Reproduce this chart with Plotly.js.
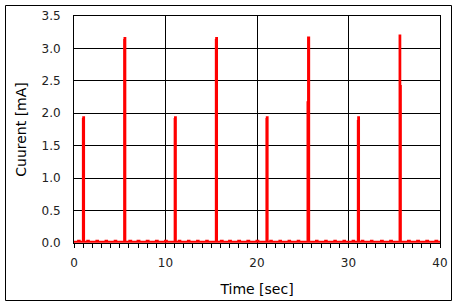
<!DOCTYPE html>
<html>
<head>
<meta charset="utf-8">
<script src="https://cdn.plot.ly/plotly-3.0.1.min.js"></script>
<style>
html,body{margin:0;padding:0;background:#fff;}
#chart{width:458px;height:307px;}
</style>
</head>
<body>
<div id="chart"></div>
<script>
// Time samples [sec]
const time = [
  0, 0.45, 0.62, 0.97, 1.01, 1.10, 1.45, 1.62, 2.45, 2.62, 3.45, 3.62, 4.45, 4.62,
  5.48, 5.52, 5.61, 6.05, 6.25, 6.95, 7.15, 7.95, 8.15, 8.95, 9.15, 9.95, 10.15,
  11.00, 11.04, 11.13, 11.45, 11.62, 12.45, 12.62, 13.45, 13.62, 14.45, 14.62,
  15.50, 15.54, 15.63, 16.05, 16.25, 16.95, 17.15, 17.95, 18.15, 18.95, 19.15, 19.95, 20.15,
  21.03, 21.07, 21.16, 21.45, 21.62, 22.45, 22.62, 23.45, 23.62, 24.45, 24.62,
  25.52, 25.58, 25.70, 26.45, 26.62, 27.45, 27.62, 28.45, 28.62, 29.45, 29.62, 30.45, 30.62,
  31.02, 31.06, 31.15, 31.45, 31.62, 32.45, 32.62, 33.55, 33.75, 34.55, 34.75,
  35.58, 35.66, 35.72, 36.50, 36.70, 37.50, 37.70, 38.50, 38.70, 39.50, 39.70, 40
];
// Current [mA]
const current = [
  0.02, 0.035, 0.02, 1.91, 1.94, 0.02, 0.035, 0.02, 0.035, 0.02, 0.035, 0.02, 0.035, 0.02,
  3.13, 3.16, 0.02, 0.035, 0.02, 0.035, 0.02, 0.035, 0.02, 0.035, 0.02, 0.035, 0.02,
  1.91, 1.94, 0.02, 0.035, 0.02, 0.035, 0.02, 0.035, 0.02, 0.035, 0.02,
  3.13, 3.16, 0.02, 0.035, 0.02, 0.035, 0.02, 0.035, 0.02, 0.035, 0.02, 0.035, 0.02,
  1.91, 1.94, 0.02, 0.035, 0.02, 0.035, 0.02, 0.035, 0.02, 0.035, 0.02,
  2.17, 3.17, 0.02, 0.035, 0.02, 0.035, 0.02, 0.035, 0.02, 0.035, 0.02, 0.035, 0.02,
  1.88, 1.94, 0.02, 0.035, 0.02, 0.035, 0.02, 0.035, 0.02, 0.035, 0.02,
  3.20, 2.42, 0.02, 0.035, 0.02, 0.035, 0.02, 0.035, 0.02, 0.035, 0.02, 0.02
];
const xTickVals = [0, 10, 20, 30, 40];
const yTickVals = [0, 0.5, 1.0, 1.5, 2.0, 2.5, 3.0, 3.5];

const font = 'DejaVu Sans, Verdana, sans-serif';

const trace = {
  x: time, y: current, type: 'scatter', mode: 'lines',
  line: {color: '#ff0000', width: 2, shape: 'hv'},
  hoverinfo: 'skip', showlegend: false
};

const W = 366, H = 227, L = 74, T = 16;
const layout = {
  width: 458, height: 307,
  margin: {l: L, r: 458 - L - W, t: T, b: 307 - T - H, pad: 0},
  paper_bgcolor: '#ffffff', plot_bgcolor: '#ffffff',
  font: {family: font, size: 12, color: '#222'},
  xaxis: {
    range: [0, 40], tickvals: xTickVals, ticktext: xTickVals.map(String),
    showgrid: true, gridcolor: '#000', gridwidth: 1,
    zeroline: false, showline: true, linecolor: '#000', linewidth: 1, mirror: true,
    ticks: 'outside', ticklen: 4, tickcolor: '#000', tickwidth: 1, ticklabelstandoff: 5,
    minor: {ticks: 'outside', dtick: 1, ticklen: 4, tickcolor: '#000', showgrid: false},
    tickfont: {family: font, size: 12, color: '#222'},
    title: {text: 'Time [sec]', font: {family: font, size: 14, color: '#000'}, standoff: 14},
    fixedrange: true
  },
  yaxis: {
    range: [0, 3.5], tickvals: yTickVals, tickformat: '.1f',
    showgrid: true, gridcolor: '#000', gridwidth: 1,
    zeroline: false, showline: true, linecolor: '#000', linewidth: 1, mirror: true,
    ticks: '', ticklabelstandoff: 10,
    tickfont: {family: font, size: 12, color: '#222'},
    title: {text: 'Cuurent [mA]', font: {family: font, size: 14, color: '#000'}, standoff: 11},
    fixedrange: true
  },
  shapes: [{
    type: 'rect', xref: 'paper', yref: 'paper',
    x0: (5.5 - L) / W, x1: (451.5 - L) / W,
    y0: (T + H - 300.5) / H, y1: (T + H - 5.5) / H,
    line: {color: '#000', width: 1}, fillcolor: 'rgba(0,0,0,0)', layer: 'below'
  }]
};

Plotly.newPlot('chart', [trace], layout, {displayModeBar: false, staticPlot: true});
</script>
</body>
</html>
